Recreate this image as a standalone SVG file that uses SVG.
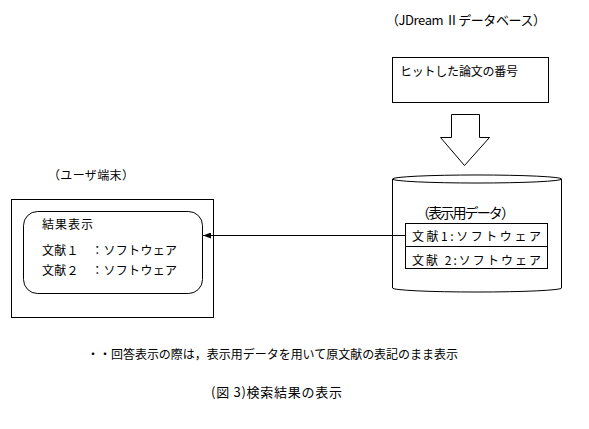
<svg xmlns="http://www.w3.org/2000/svg" width="589" height="429" viewBox="0 0 589 429">
<defs>
<style>
.t{font-family:"Noto Sans CJK JP","Noto Sans",sans-serif;fill:#000}
.s{fill:none;stroke:#000;stroke-width:1}
.w{fill:#fff;stroke:#000;stroke-width:1}
</style>
<marker id="ah" markerWidth="8" markerHeight="6" refX="8" refY="3" orient="auto" markerUnits="userSpaceOnUse">
<path d="M0,0 L8,3 L0,6 Z" fill="#000"/>
</marker>
</defs>
<rect width="589" height="429" fill="#fff"/>
<text class="t" x="386" y="25" font-size="13" textLength="160">（JDream Ⅱデータベース）</text>
<g id="hit">
<rect class="w" x="392.5" y="57.5" width="156" height="45"/>
<text class="t" x="400" y="76" font-size="12" textLength="118">ヒットした論文の番号</text>
</g>
<g id="bigarrow">
<path class="w" d="M451.5,114.5 L479.5,114.5 L479.5,137.5 L489.5,137.5 L464.5,165.5 L440.5,137.5 L451.5,137.5 Z"/>
</g>
<g id="db">
<path class="w" d="M392.5,179 L392.5,288 A84,4 0 0 0 561.5,288 L561.5,179 A84,4 0 0 0 392.5,179 Z"/>
<path class="s" d="M392.5,179 A84,4 0 0 0 561.5,179"/>
<text class="t" x="416" y="218" font-size="14" textLength="99">（表示用データ）</text>
<rect class="w" x="405.5" y="223.5" width="142" height="45"/>
<line class="s" x1="405.5" y1="246.5" x2="547.5" y2="246.5"/>
<text class="t" x="412" y="241" font-size="12" textLength="129">文献1:ソフトウェア</text>
<text class="t" x="412" y="265" font-size="12" textLength="129">文献 2:ソフトウェア</text>
</g>
<text class="t" x="48" y="180" font-size="12" textLength="86">（ユーザ端末）</text>
<g id="terminal">
<rect class="w" x="11.5" y="199.5" width="202" height="118"/>
<rect class="w" x="23.5" y="211.5" width="179" height="82" rx="14" ry="14"/>
<text class="t" x="42" y="229" font-size="12" textLength="51">結果表示</text>
<text class="t" x="42" y="255" font-size="12" textLength="135">文献１　：ソフトウェア</text>
<text class="t" x="42" y="275" font-size="12" textLength="135">文献２　：ソフトウェア</text>
</g>
<g id="connectors">
<line class="s" x1="405.5" y1="235.5" x2="203" y2="235.5" marker-end="url(#ah)"/>
</g>
<text class="t" x="87" y="359" font-size="12" textLength="371">・・回答表示の際は，表示用データを用いて原文献の表記のまま表示</text>
<text class="t" x="211" y="397" font-size="13" textLength="131">(図 3)検索結果の表示</text>
</svg>
